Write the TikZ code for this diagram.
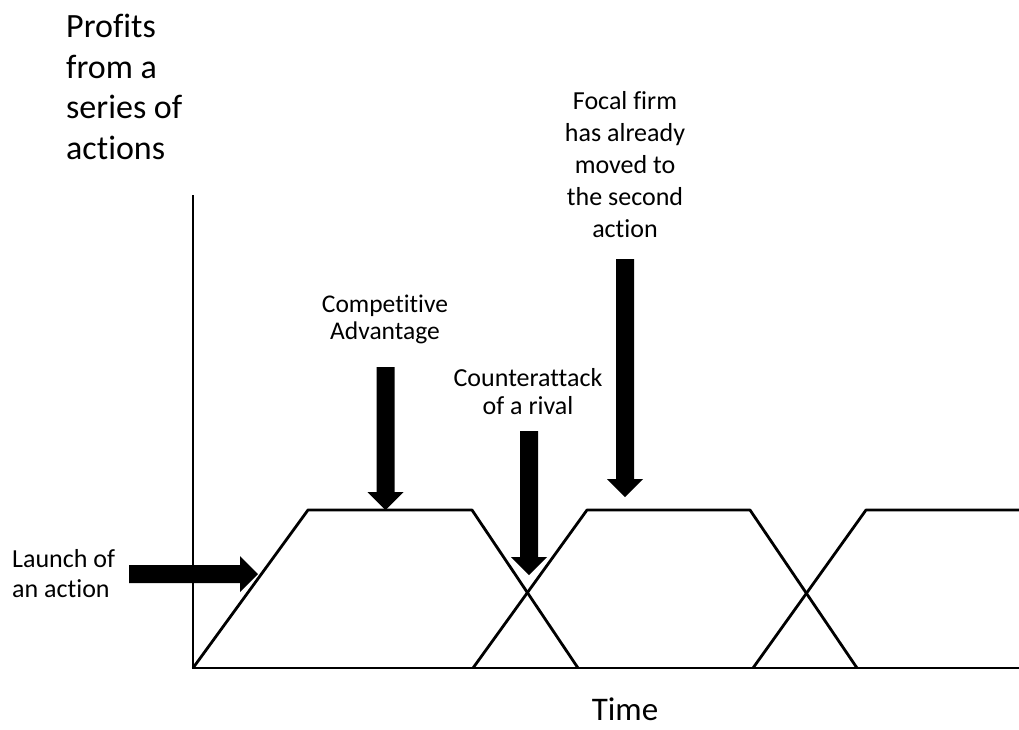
\documentclass[tikz,border=0pt]{standalone}
\usepackage{fontspec}
\setmainfont{Carlito}[Ligatures={NoCommon,NoContextual}]
\begin{document}
\begin{tikzpicture}[x=1pt,y=-1pt,
  curve/.style={line width=2.8pt, line join=round},
  axis/.style={line width=2.8pt, line join=miter},
  lbl/.style={inner sep=0pt, align=center, text=black},
  % solid block arrow pointing along +x, argument = total length
  pics/blockarrow/.style={code={
    \fill (0,-9) -- (#1-18,-9) -- (#1-18,-18) -- (#1,0)
          -- (#1-18,18) -- (#1-18,9) -- (0,9) -- cycle;}}]
\useasboundingbox (0,0) rectangle (1019,729);

% axes
\coordinate (O) at (193,668);
\coordinate (ytop) at (193,195);
\coordinate (xend) at (1021,668);
\draw[axis] (ytop) -- (O) -- (xend);

% profit curves of successive actions
\coordinate (a1) at (308,510);
\coordinate (b1) at (472,510);
\coordinate (c1) at (578,668);
\coordinate (s2) at (473,668);
\coordinate (a2) at (587,510);
\coordinate (b2) at (750,510);
\coordinate (c2) at (857,668);
\coordinate (s3) at (753,668);
\coordinate (a3) at (866,510);
\coordinate (b3) at (1021,510);
\draw[curve] (O) -- (a1) -- (b1) -- (c1);
\draw[curve] (s2) -- (a2) -- (b2) -- (c2);
\draw[curve] (s3) -- (a3) -- (b3);

% labels
\node[lbl, align=left, anchor=west, font=\fontsize{34}{40.5}\selectfont]
  (profits) at (66,87) {Profits\\from a\\series of\\actions};
\node[lbl, font=\fontsize{25.5}{27}\selectfont]
  (adv) at (385,319) {Competitive\\Advantage};
\node[lbl, font=\fontsize{26}{28}\selectfont]
  (counter) at (528,392) {Counterattack\\of a rival};
\node[lbl, font=\fontsize{26}{32}\selectfont]
  (focal) at (625,164.5) {Focal firm\\has already\\moved to\\the second\\action};
\node[lbl, align=left, anchor=west, font=\fontsize{26}{30.5}\selectfont]
  (launch) at (12,573.5) {Launch of\\an action};
\node[lbl, font=\fontsize{33}{36}\selectfont]
  (time) at (625,709) {Time};

% block arrows
\coordinate (launchtail) at (129,574);
\coordinate (advtail) at (385.5,367);
\coordinate (countertail) at (529,431);
\coordinate (focaltail) at (625,259);
\pic at (launchtail) {blockarrow=129};
\pic[rotate=-90] at (advtail) {blockarrow=143};
\pic[rotate=-90] at (countertail) {blockarrow=144};
\pic[rotate=-90] at (focaltail) {blockarrow=238};
\end{tikzpicture}
\end{document}
